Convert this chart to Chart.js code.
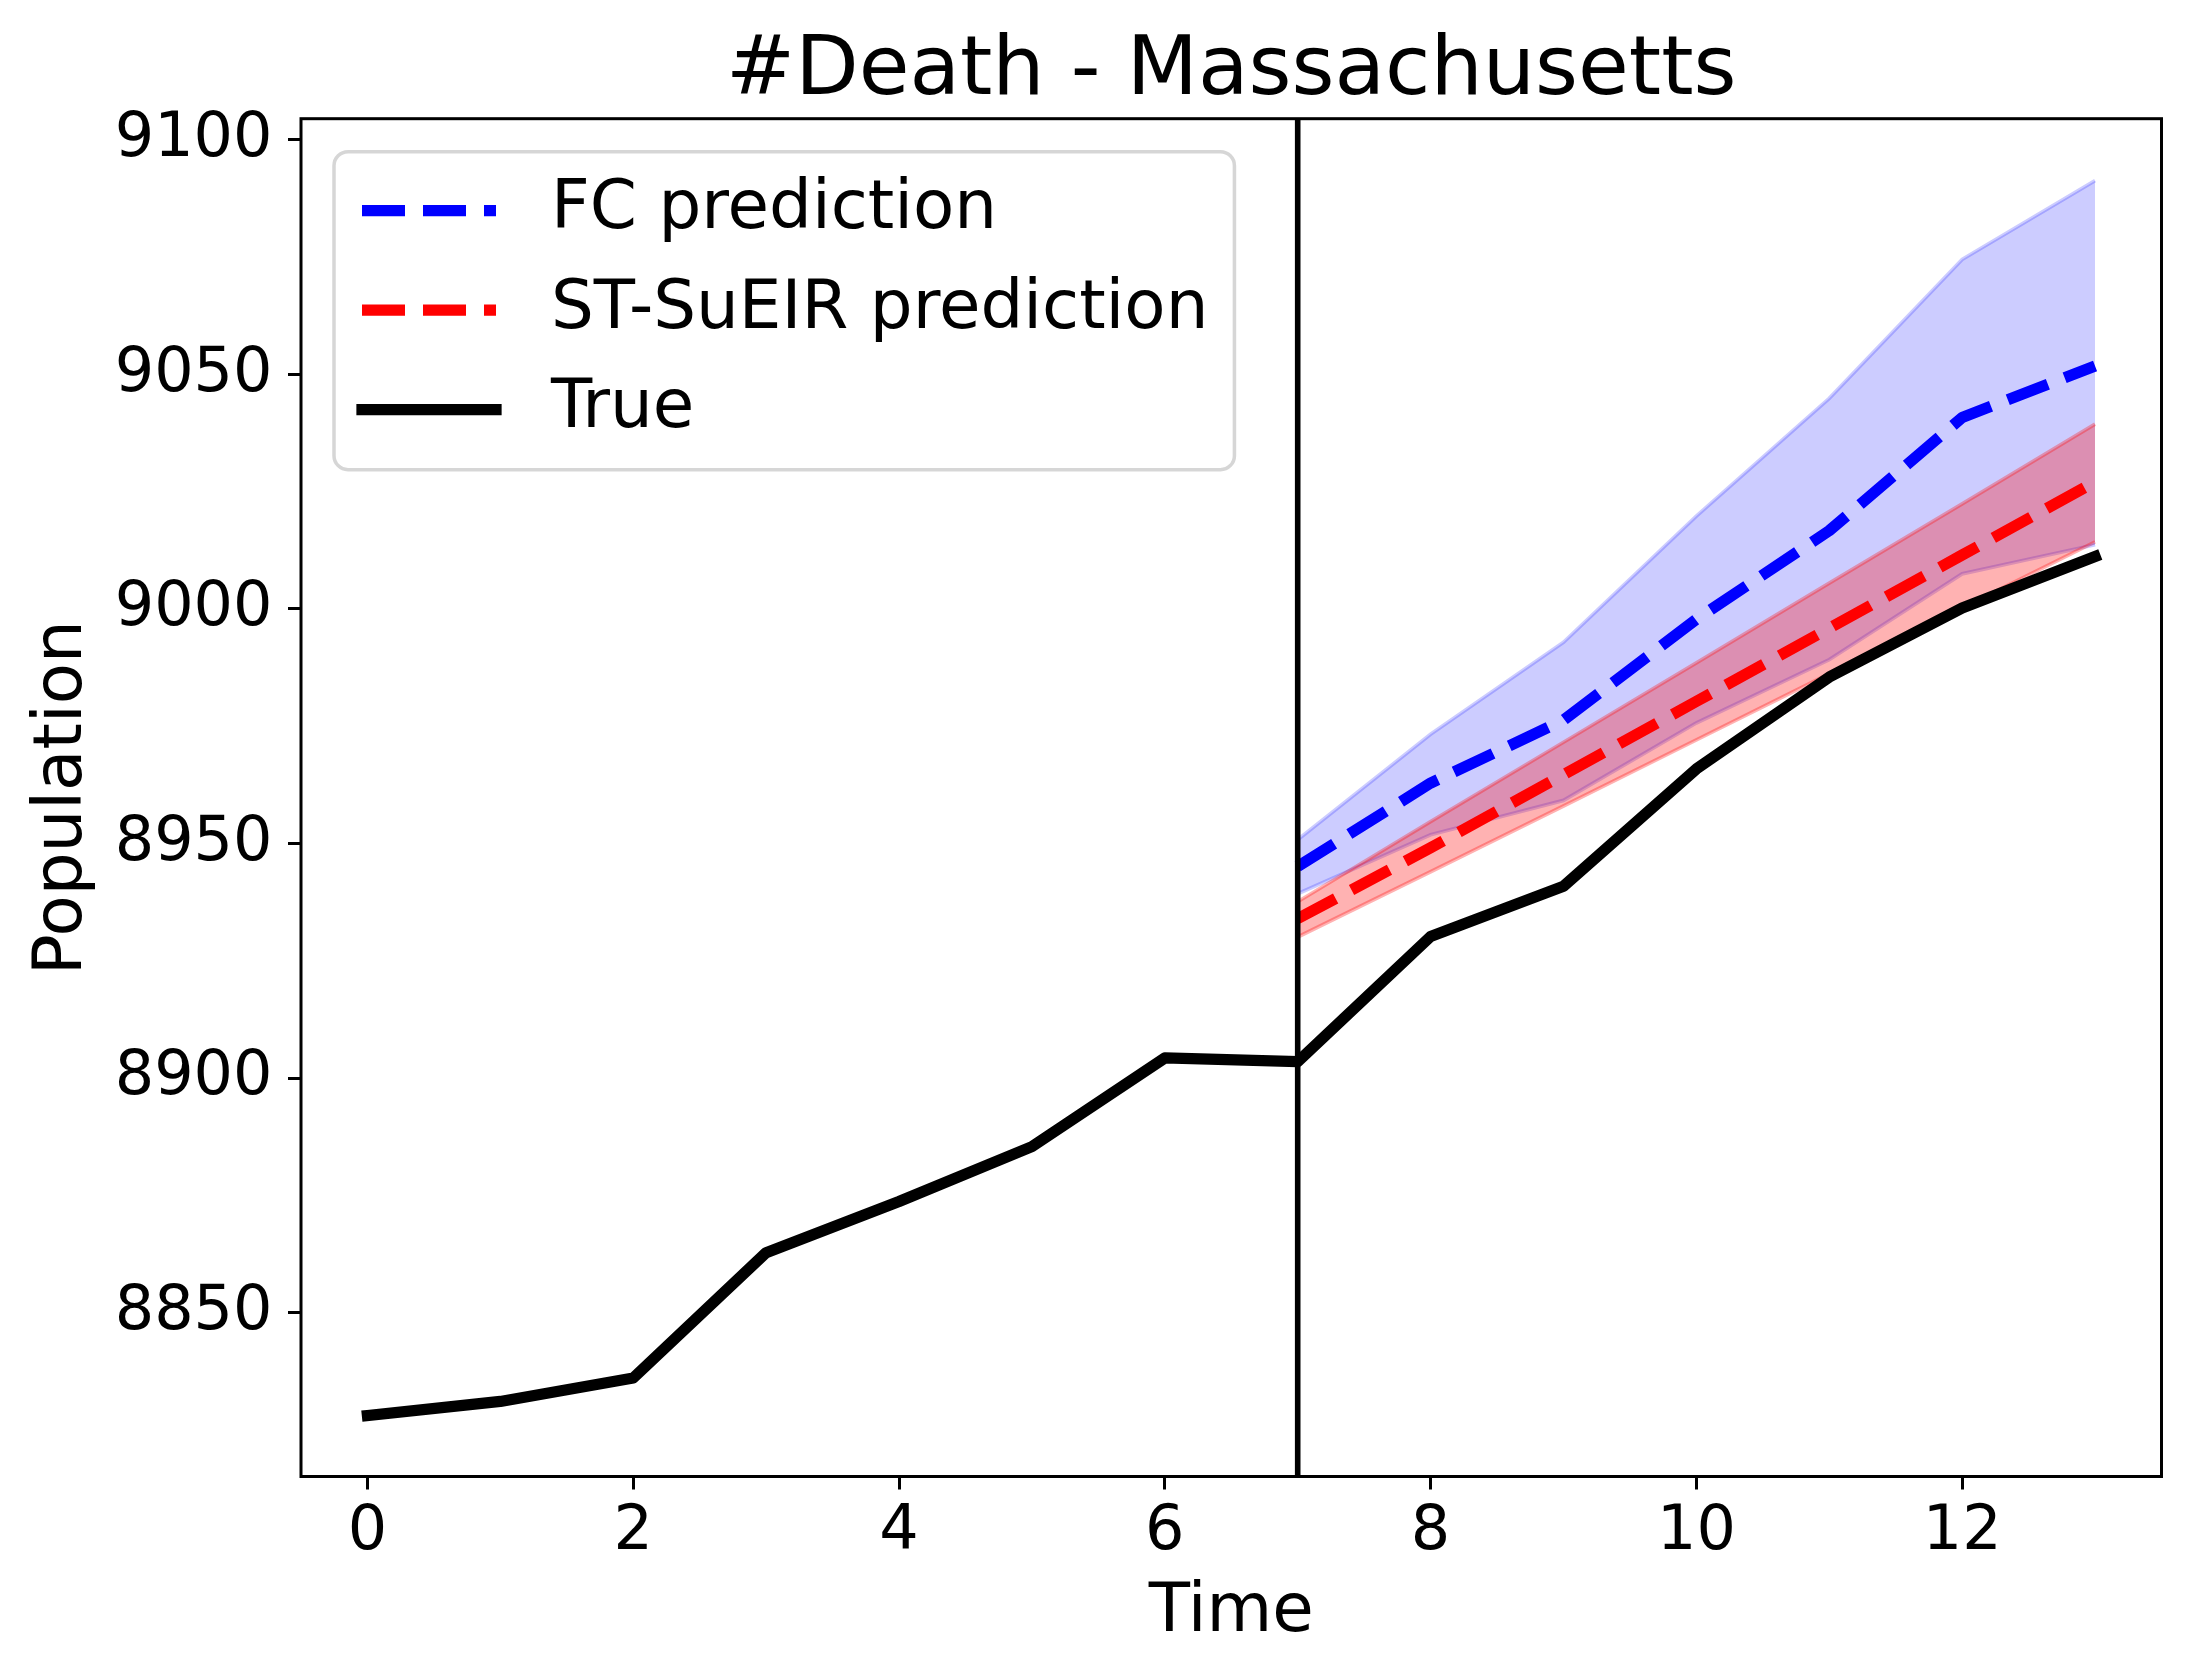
<!DOCTYPE html>
<html>
<head>
<meta charset="utf-8">
<script src="https://cdn.jsdelivr.net/npm/chart.js@4.4.0/dist/chart.umd.min.js"></script>
<style>
  html, body { margin: 0; padding: 0; background: #fff; }
  canvas { display: block; }
</style>
</head>
<body>
<canvas id="deathChart" width="2190" height="1679"></canvas>
<script>
// values
const days = [0, 1, 2, 3, 4, 5, 6, 7, 8, 9, 10, 11, 12, 13];
const trueDeaths = [8828.1, 8831.1, 8836.1, 8862.8, 8873.7, 8885.4, 8904.3, 8903.5, 8930.2, 8940.9, 8965.9, 8985.5, 9000.2, 9011.2];

const predDays = [7, 8, 9, 10, 11, 12, 13];
const fcPred  = [8945.1, 8962.9, 8976.3, 8997.8, 9016.7, 9040.8, 9051.8];
const fcUpper = [8950.8, 8973.3, 8992.9, 9019.8, 9044.9, 9074.5, 9091.3];
const fcLower = [8939.3, 8951.9, 8959.2, 8975.7, 8989.2, 9007.5, 9013.7];
const stPred  = [8934.0, 8949.1, 8964.7, 8980.3, 8995.9, 9011.5, 9027.1];
const stUpper = [8937.6, 8954.7, 8971.6, 8988.5, 9005.5, 9022.4, 9039.4];
const stLower = [8930.1, 8944.0, 8958.0, 8972.1, 8986.2, 9000.2, 9014.3];

const xTicks = [0, 2, 4, 6, 8, 10, 12];
const yTicks = [8850, 8900, 8950, 9000, 9050, 9100];
const forecastStart = 7;

const FONT = 'DejaVu Sans';

const toPoints = (xs, ys) => xs.map((x, i) => ({ x: x, y: ys[i] }));

// title, forecast marker, axes box and legend (matplotlib style)
const frameAndNotes = {
  id: 'frameAndNotes',
  afterDatasetsDraw(chart) {
    const ctx = chart.ctx;
    const a = chart.chartArea;
    const xs = chart.scales.x;
    ctx.save();

    const vx = xs.getPixelForValue(forecastStart);
    ctx.strokeStyle = '#000';
    ctx.lineWidth = 5.6;
    ctx.beginPath();
    ctx.moveTo(vx, a.top);
    ctx.lineTo(vx, a.bottom);
    ctx.stroke();

    ctx.lineWidth = 3;
    ctx.strokeRect(a.left, a.top, a.right - a.left, a.bottom - a.top);

    ctx.fillStyle = '#000';
    ctx.font = '82.5px "' + FONT + '"';
    ctx.textAlign = 'center';
    ctx.textBaseline = 'alphabetic';
    ctx.fillText('#Death - Massachusetts', (a.left + a.right) / 2, a.top - 24.5);

    // legend
    const items = chart.data.datasets.filter(d => d.label);
    ctx.font = '67.5px "' + FONT + '"';
    let maxW = 0;
    items.forEach(d => { maxW = Math.max(maxW, ctx.measureText(d.label).width); });
    const lx = a.left + 33;
    const ly = a.top + 33;
    const w = 217 + maxW + 26;
    const h = 318;
    ctx.beginPath();
    if (ctx.roundRect) ctx.roundRect(lx, ly, w, h, 14); else ctx.rect(lx, ly, w, h);
    ctx.fillStyle = 'rgba(255,255,255,0.8)';
    ctx.fill();
    ctx.strokeStyle = 'rgba(204,204,204,0.8)';
    ctx.lineWidth = 3.5;
    ctx.stroke();

    items.forEach((d, i) => {
      const y = ly + 59 + i * 99.5;
      ctx.strokeStyle = d.borderColor;
      ctx.lineWidth = d.borderWidth;
      ctx.lineCap = d.borderCapStyle || 'butt';
      ctx.setLineDash(d.borderDash || []);
      ctx.beginPath();
      ctx.moveTo(lx + 28, y);
      ctx.lineTo(lx + 162, y);
      ctx.stroke();
      ctx.setLineDash([]);
      ctx.fillStyle = '#000';
      ctx.textAlign = 'left';
      ctx.textBaseline = 'middle';
      ctx.fillText(d.label, lx + 217, y);
    });
    ctx.restore();
  }
};

const tickFont = { family: FONT, size: 62, lineHeight: 1 };
const labelFont = { family: FONT, size: 67.5, lineHeight: 1 };
const tickGrid = {
  display: true,
  drawOnChartArea: false,
  drawTicks: true,
  tickLength: 13,
  tickColor: '#000',
  tickWidth: 3,
  lineWidth: 3,
  color: '#000'
};

new Chart('deathChart', {
  type: 'line',
  data: {
    datasets: [
      {
        label: 'FC prediction',
        data: toPoints(predDays, fcPred),
        borderColor: 'rgb(0,0,255)',
        borderWidth: 11.25,
        borderDash: [43, 18],
        borderCapStyle: 'butt',
        borderJoinStyle: 'round',
        pointRadius: 0,
        fill: false,
        order: 2
      },
      {
        label: 'ST-SuEIR prediction',
        data: toPoints(predDays, stPred),
        borderColor: 'rgb(255,0,0)',
        borderWidth: 11.25,
        borderDash: [43, 18],
        borderCapStyle: 'butt',
        borderJoinStyle: 'round',
        pointRadius: 0,
        fill: false,
        order: 3
      },
      {
        label: 'True',
        data: toPoints(days, trueDeaths),
        borderColor: '#000',
        borderWidth: 11.25,
        borderCapStyle: 'square',
        borderJoinStyle: 'round',
        pointRadius: 0,
        fill: false,
        order: 1
      },
      {
        data: toPoints(predDays, fcUpper),
        borderColor: 'rgba(0,0,255,0.2)',
        backgroundColor: 'rgba(0,0,255,0.2)',
        borderWidth: 3.75,
        pointRadius: 0,
        fill: 4,
        order: 5
      },
      {
        data: toPoints(predDays, fcLower),
        borderColor: 'rgba(0,0,255,0.2)',
        borderWidth: 3.75,
        pointRadius: 0,
        fill: false,
        order: 5
      },
      {
        data: toPoints(predDays, stUpper),
        borderColor: 'rgba(255,0,0,0.3)',
        backgroundColor: 'rgba(255,0,0,0.3)',
        borderWidth: 3.75,
        pointRadius: 0,
        fill: 6,
        order: 4
      },
      {
        data: toPoints(predDays, stLower),
        borderColor: 'rgba(255,0,0,0.3)',
        borderWidth: 3.75,
        pointRadius: 0,
        fill: false,
        order: 4
      }
    ]
  },
  options: {
    responsive: false,
    animation: false,
    devicePixelRatio: 1,
    layout: { padding: { top: 118.7, right: 28.5, left: 0, bottom: 0 } },
    plugins: {
      legend: { display: false },
      title: { display: false },
      tooltip: { enabled: false }
    },
    scales: {
      x: {
        type: 'linear',
        min: -0.5,
        max: 13.5,
        afterFit(s) { s.height = 202.5; },
        afterBuildTicks(s) { s.ticks = xTicks.map(v => ({ value: v })); },
        ticks: { font: tickFont, color: '#000', padding: 12.5, maxRotation: 0, callback: v => String(v) },
        grid: tickGrid,
        border: { display: false },
        title: { display: true, text: 'Time', font: labelFont, color: '#000', padding: { top: 0, bottom: 32 } }
      },
      y: {
        type: 'linear',
        min: 8815.1,
        max: 9104.5,
        afterFit(s) { s.width = 301; },
        afterBuildTicks(s) { s.ticks = yTicks.map(v => ({ value: v })); },
        ticks: { font: tickFont, color: '#000', padding: 15.5, callback: v => String(v) },
        grid: tickGrid,
        border: { display: false },
        title: { display: true, text: 'Population', font: labelFont, color: '#000', padding: { top: 30, bottom: 0 } }
      }
    }
  },
  plugins: [frameAndNotes]
});
</script>
</body>
</html>
